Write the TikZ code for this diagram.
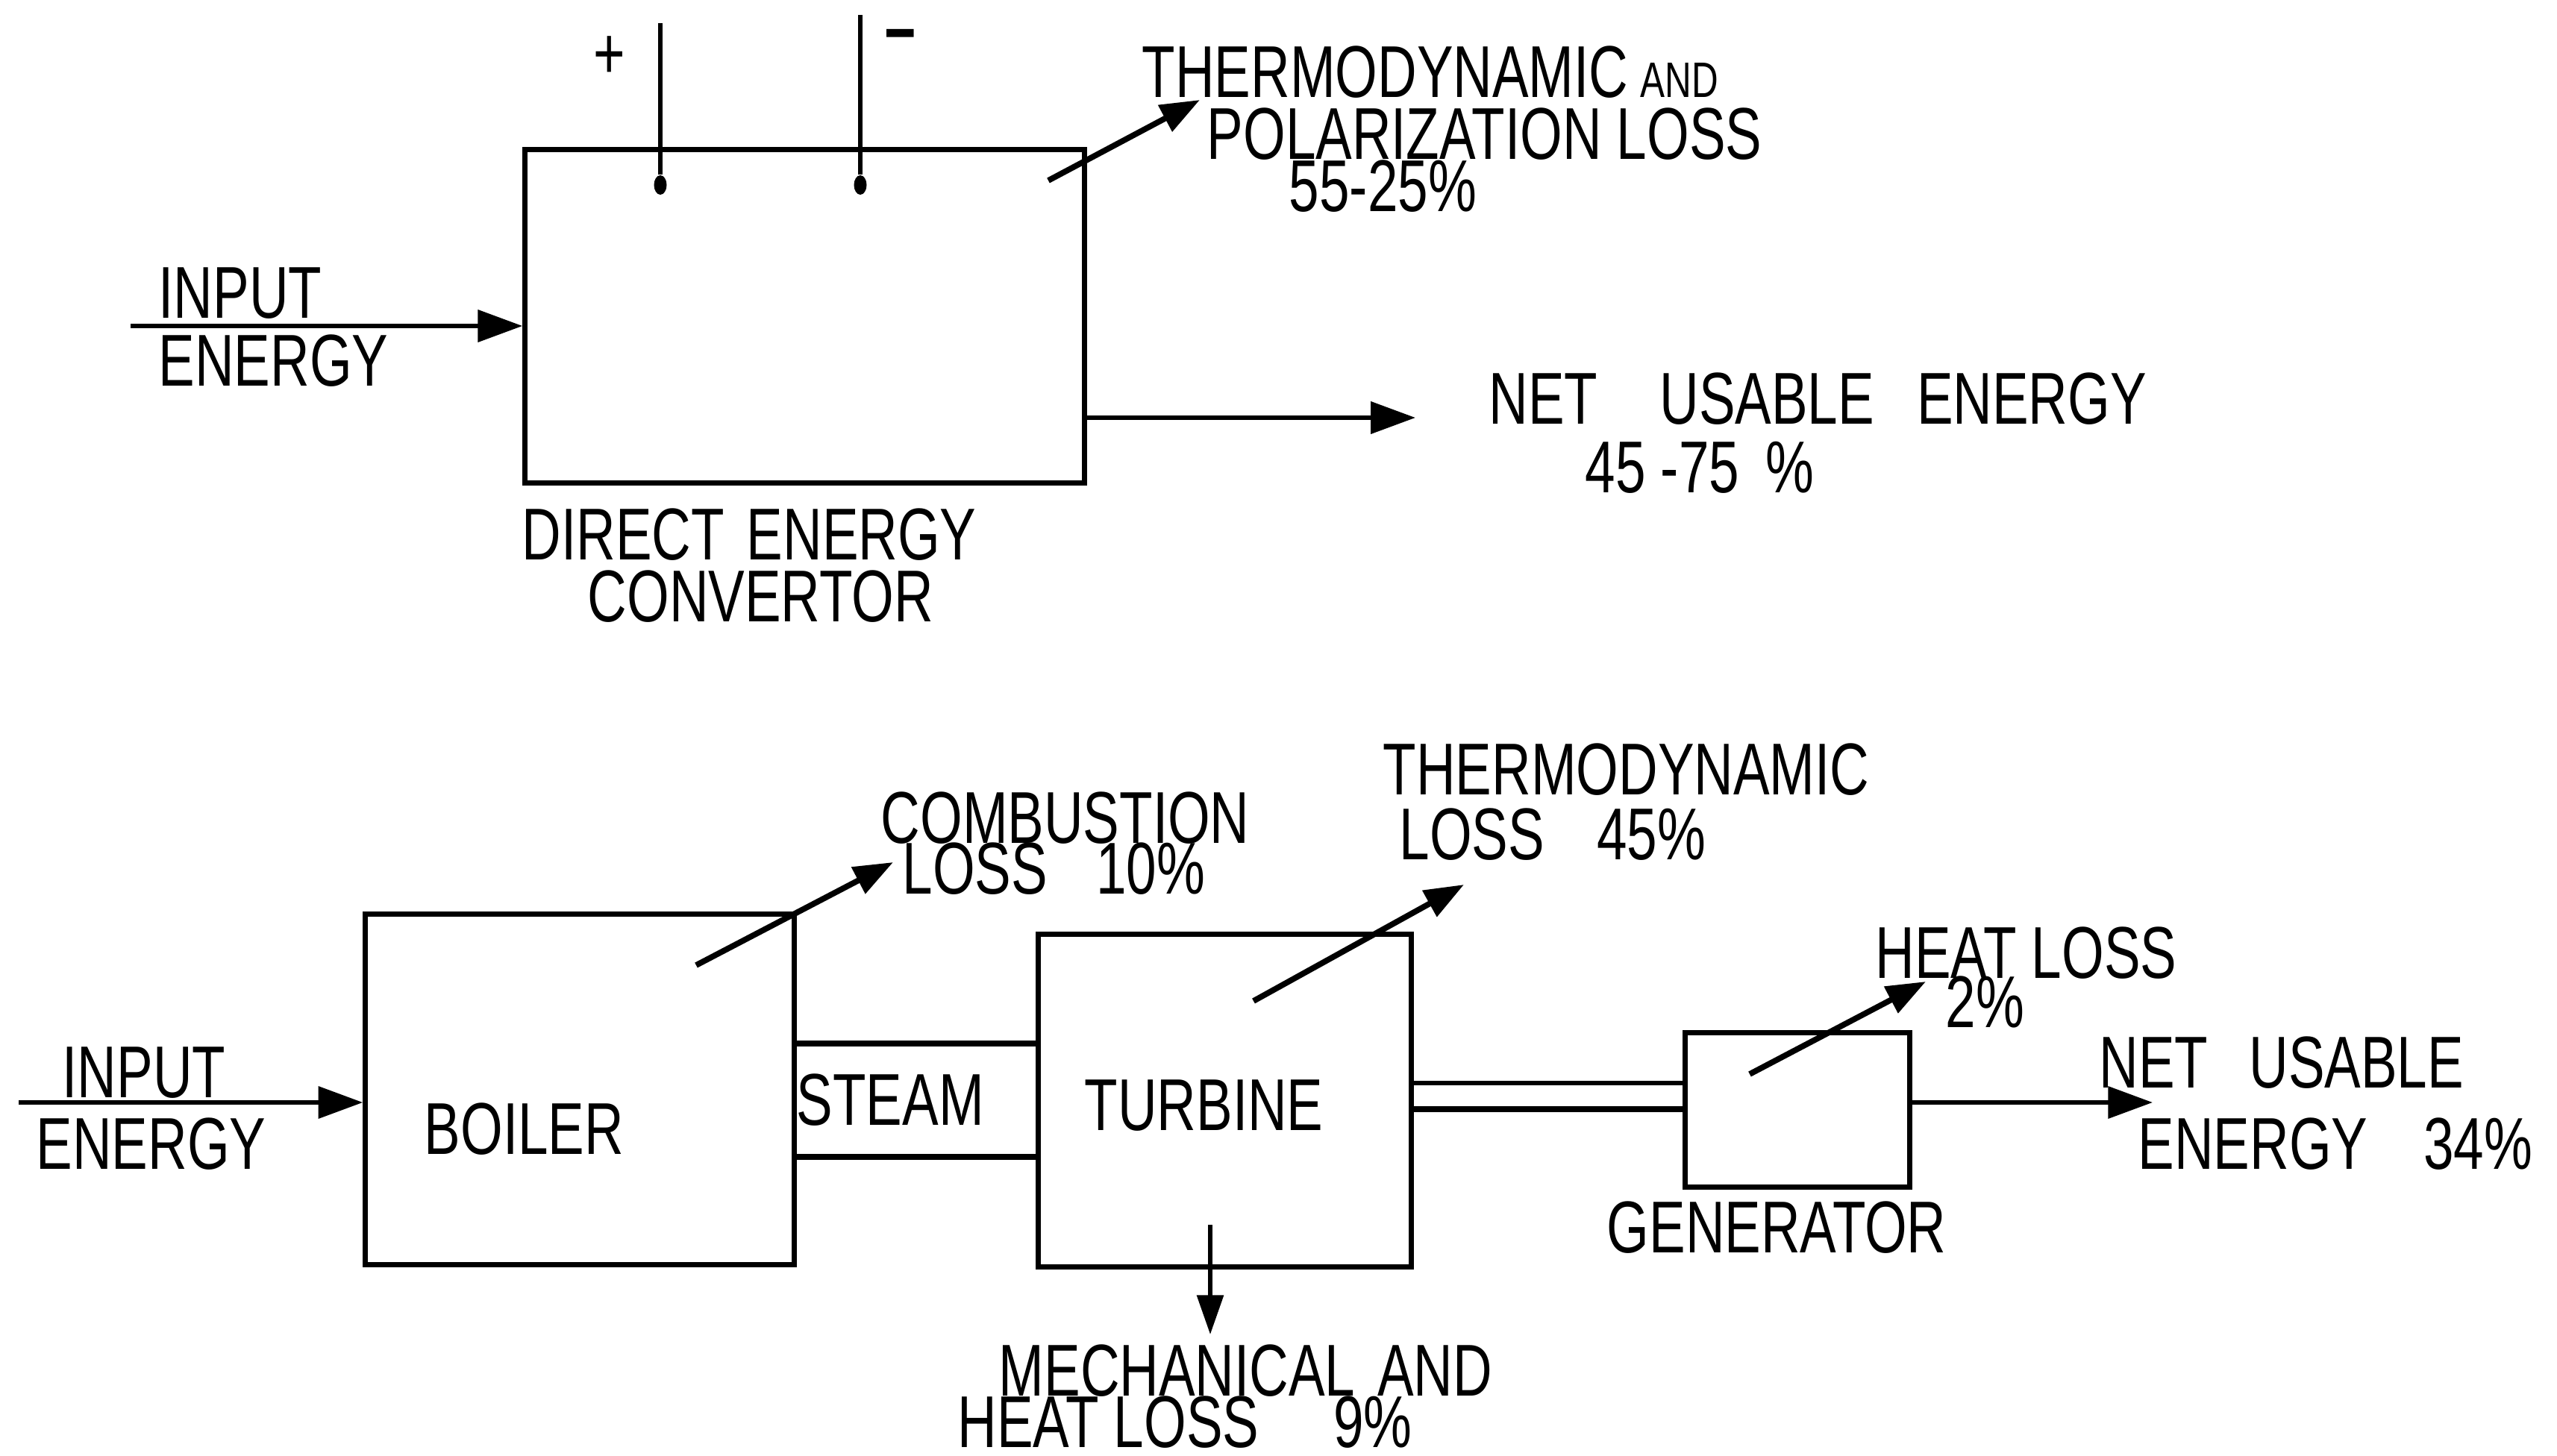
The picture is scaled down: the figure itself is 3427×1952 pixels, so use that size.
\documentclass[tikz,border=0pt]{standalone}
\usepackage{fontspec}
\newfontfamily\lett[FakeStretch=0.74]{Liberation Sans}
\usetikzlibrary{arrows.meta,shapes.geometric}
\begin{document}
\begin{tikzpicture}[x=0.01cm,y=-0.01cm,
  box/.style={draw,line width=2pt,inner sep=0pt},
  lbl/.style={inner sep=0pt,anchor=base west,font=\lett\fontsize{28}{30}\selectfont},
  arr/.style={line width=1.8pt,-{Triangle[length=17pt,width=12pt]}},
  lossarr/.style={line width=2.2pt,-{Triangle[length=15pt,width=11pt]}},
  term/.style={line width=1.5pt},
  dotn/.style={ellipse,fill,inner sep=0pt,minimum width=0.17cm,minimum height=0.26cm}]
\fill[white] (0,0) rectangle (3427,1952);
\useasboundingbox (0,0) rectangle (3427,1952);

% ---------- top: direct energy convertor ----------
\node[box,minimum width=7.49cm,minimum height=4.46cm] (dec) at (1078.5,424) {};
\coordinate (ptop) at (885,31);
\coordinate (mtop) at (1153,20);
\node[dotn] (pdot) at (885,248) {};
\node[dotn] (mdot) at (1153,248) {};
\draw[term] (ptop) -- (pdot);
\draw[term] (mtop) -- (mdot);
\node[inner sep=0pt,font=\lett\fontsize{28}{30}\selectfont] (plus) at (817,77) {+};
\node[inner sep=0pt,font=\lett\bfseries\fontsize{28}{30}\selectfont] (minus) at (1207,58) {−};

\coordinate (in1) at (175,437);
\draw[arr] (in1) -- (dec.west |- in1);
\coordinate (out1) at (1897,560);
\draw[arr] (dec.east |- out1) -- (out1);
\coordinate (l1s) at (1405,242);
\coordinate (l1e) at (1608,134);
\draw[lossarr] (l1s) -- (l1e);

\node[lbl] (t1a) at (1530,131) {THERMODYNAMIC\,\lett\fontsize{19}{21}\selectfont AND};
\node[lbl] (t1b) at (1617,214) {POLARIZATION LOSS};
\node[lbl] (t1c) at (1727,284) {55-25\%};
\node[lbl] (in1a) at (212,426) {INPUT};
\node[lbl] (in1b) at (212,518) {ENERGY};
\node[lbl] (nu1a) at (1995,568) {NET\hspace{0.83cm}USABLE\hspace{0.57cm}ENERGY};
\node[lbl] (nu1b) at (2124,660) {45 -75\hspace{0.35cm}\%};
\node[lbl] (dec1) at (699,750) {DIRECT\hspace{0.3cm}ENERGY};
\node[lbl] (dec2) at (787,833) {CONVERTOR};

% ---------- bottom: conventional plant ----------
\node[box,minimum width=5.74cm,minimum height=4.69cm] (boiler) at (777,1460.5) {};
\node[box,minimum width=4.99cm,minimum height=4.45cm] (turbine) at (1641.5,1475.5) {};
\node[box,minimum width=3.00cm,minimum height=2.06cm] (gen) at (2409,1488) {};

\coordinate (st1) at (0,1399);
\coordinate (st2) at (0,1551);
\draw[line width=2pt] (boiler.east |- st1) -- (turbine.west |- st1);
\draw[line width=2pt] (boiler.east |- st2) -- (turbine.west |- st2);
\coordinate (sh1) at (0,1452);
\coordinate (sh2) at (0,1487);
\draw[line width=1.8pt] (turbine.east |- sh1) -- (gen.west |- sh1);
\draw[line width=2.2pt] (turbine.east |- sh2) -- (gen.west |- sh2);

\coordinate (in2) at (25,1478);
\draw[arr] (in2) -- (boiler.west |- in2);
\coordinate (out2) at (2885,1478);
\draw[arr] (gen.east |- out2) -- (out2);

\coordinate (cbs) at (933,1294);
\coordinate (cbe) at (1197,1156);
\draw[lossarr] (cbs) -- (cbe);
\coordinate (ths) at (1680,1342);
\coordinate (the) at (1962,1186);
\draw[lossarr] (ths) -- (the);
\coordinate (hls) at (2345,1440);
\coordinate (hle) at (2581,1316);
\draw[lossarr] (hls) -- (hle);
\coordinate (mcs) at (1622,1642);
\coordinate (mce) at (1622,1789);
\draw[line width=1.6pt,-{Triangle[length=15pt,width=10pt]}] (mcs) -- (mce);

\node[lbl] (boilt) at (568,1547) {BOILER};
\node[lbl] (turbt) at (1453,1515) {TURBINE};
\node[lbl] (steamt) at (1067,1508) {STEAM};
\node[lbl] (gent) at (2153,1679) {GENERATOR};
\node[lbl] (in2a) at (83,1471) {INPUT};
\node[lbl] (in2b) at (48,1567) {ENERGY};
\node[lbl] (cba) at (1180,1130) {COMBUSTION};
\node[lbl] (cbb) at (1209,1198) {LOSS\hspace{0.65cm}10\%};
\node[lbl] (tha) at (1853,1065) {THERMODYNAMIC};
\node[lbl] (thb) at (1875,1152) {LOSS\hspace{0.7cm}45\%};
\node[lbl] (hla) at (2513,1311) {HEAT LOSS};
\node[lbl] (hlb) at (2607,1377) {2\%};
\node[lbl] (nu2a) at (2813,1458) {NET\hspace{0.55cm}USABLE};
\node[lbl] (nu2b) at (2865,1567) {ENERGY\hspace{0.75cm}34\%};
\node[lbl] (mca) at (1338,1871) {MECHANICAL\hspace{0.3cm}AND};
\node[lbl] (mcb) at (1283,1940) {HEAT LOSS\hspace{1cm}9\%};
\end{tikzpicture}
\end{document}
